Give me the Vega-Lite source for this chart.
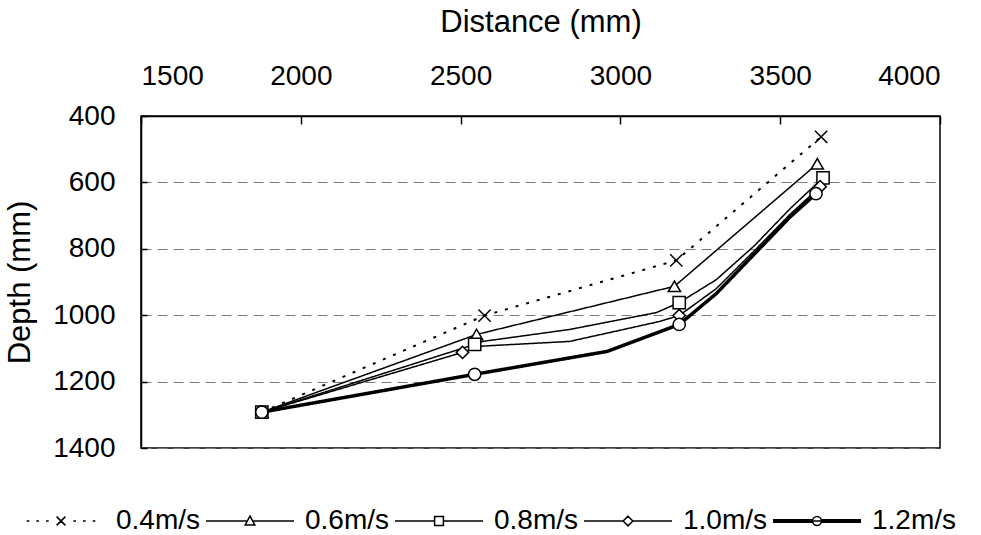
{
  "$schema": "https://vega.github.io/schema/vega-lite/v6.json",
  "width": 799,
  "height": 332,
  "autosize": {"type": "none"},
  "padding": {"left": 141, "top": 116, "right": 41, "bottom": 87},
  "background": "white",
  "config": {
    "font": "Liberation Sans",
    "view": {"stroke": "black", "strokeWidth": 1.5},
    "axis": {
      "labelFont": "Liberation Sans",
      "labelFontSize": 28,
      "labelColor": "black",
      "titleFont": "Liberation Sans",
      "titleFontSize": 31,
      "titleFontWeight": "normal",
      "titleColor": "black",
      "domainColor": "black",
      "domainWidth": 1.5,
      "tickColor": "black",
      "tickWidth": 1.5
    },
    "legend": {
      "labelFont": "Liberation Sans",
      "labelFontSize": 28,
      "labelColor": "black"
    }
  },
  "data": {
    "values": [
      {"series": "0.4m/s", "x": 1878, "y": 1292, "m": 1},
      {"series": "0.4m/s", "x": 2575, "y": 1001, "m": 1},
      {"series": "0.4m/s", "x": 3175, "y": 835, "m": 1},
      {"series": "0.4m/s", "x": 3628, "y": 463, "m": 1},
      {"series": "0.6m/s", "x": 1878, "y": 1292, "m": 1},
      {"series": "0.6m/s", "x": 2550, "y": 1058, "m": 1},
      {"series": "0.6m/s", "x": 3169, "y": 913, "m": 1},
      {"series": "0.6m/s", "x": 3616, "y": 544, "m": 1},
      {"series": "0.8m/s", "x": 1878, "y": 1292, "m": 1},
      {"series": "0.8m/s", "x": 2544, "y": 1088, "m": 1},
      {"series": "0.8m/s", "x": 2569, "y": 1079, "m": 0},
      {"series": "0.8m/s", "x": 2841, "y": 1043, "m": 0},
      {"series": "0.8m/s", "x": 3113, "y": 992, "m": 0},
      {"series": "0.8m/s", "x": 3184, "y": 962, "m": 1},
      {"series": "0.8m/s", "x": 3300, "y": 893, "m": 0},
      {"series": "0.8m/s", "x": 3420, "y": 790, "m": 0},
      {"series": "0.8m/s", "x": 3530, "y": 680, "m": 0},
      {"series": "0.8m/s", "x": 3634, "y": 586, "m": 1},
      {"series": "1.0m/s", "x": 1878, "y": 1292, "m": 1},
      {"series": "1.0m/s", "x": 2506, "y": 1112, "m": 1},
      {"series": "1.0m/s", "x": 2569, "y": 1093, "m": 0},
      {"series": "1.0m/s", "x": 2841, "y": 1079, "m": 0},
      {"series": "1.0m/s", "x": 3122, "y": 1019, "m": 0},
      {"series": "1.0m/s", "x": 3184, "y": 1001, "m": 1},
      {"series": "1.0m/s", "x": 3300, "y": 920, "m": 0},
      {"series": "1.0m/s", "x": 3420, "y": 805, "m": 0},
      {"series": "1.0m/s", "x": 3530, "y": 697, "m": 0},
      {"series": "1.0m/s", "x": 3625, "y": 613, "m": 1},
      {"series": "1.2m/s", "x": 1878, "y": 1292, "m": 1},
      {"series": "1.2m/s", "x": 2544, "y": 1178, "m": 1},
      {"series": "1.2m/s", "x": 2959, "y": 1109, "m": 0},
      {"series": "1.2m/s", "x": 3184, "y": 1028, "m": 1},
      {"series": "1.2m/s", "x": 3300, "y": 935, "m": 0},
      {"series": "1.2m/s", "x": 3420, "y": 815, "m": 0},
      {"series": "1.2m/s", "x": 3530, "y": 705, "m": 0},
      {"series": "1.2m/s", "x": 3612, "y": 634, "m": 1}
    ]
  },
  "encoding": {
    "x": {
      "field": "x",
      "type": "quantitative",
      "scale": {"domain": [1500, 4000], "nice": false, "zero": false},
      "axis": {
        "orient": "top",
        "values": [1500, 2000, 2500, 3000, 3500, 4000],
        "format": "d",
        "title": "Distance (mm)",
        "grid": false,
        "tickSize": -8,
        "labelPadding": 34,
        "titlePadding": 24
      }
    },
    "y": {
      "field": "y",
      "type": "quantitative",
      "scale": {"domain": [400, 1400], "reverse": true, "nice": false, "zero": false},
      "axis": {
        "values": [400, 600, 800, 1000, 1200, 1400],
        "format": "d",
        "title": "Depth (mm)",
        "grid": true,
        "gridDash": [10, 6],
        "gridColor": "#7a7a7a",
        "gridWidth": 1,
        "tickSize": -6,
        "labelPadding": 32,
        "titlePadding": 16
      }
    }
  },
  "layer": [
    {
      "mark": {"type": "line", "color": "black"},
      "encoding": {
        "detail": {"field": "series", "type": "nominal"},
        "strokeDash": {
          "field": "series",
          "type": "nominal",
          "scale": {
            "domain": ["0.4m/s", "0.6m/s", "0.8m/s", "1.0m/s", "1.2m/s"],
            "range": [[3, 8], [1, 0], [1, 0], [1, 0], [1, 0]]
          },
          "legend": null
        },
        "strokeWidth": {
          "condition": [
            {"test": "datum.series == '1.2m/s'", "value": 3.5},
            {"test": "datum.series == '0.4m/s'", "value": 2}
          ],
          "value": 1.5
        }
      }
    },
    {
      "transform": [{"filter": "datum.m == 1"}],
      "mark": {"type": "point", "filled": true, "fill": "white", "stroke": "black", "strokeWidth": 1.5, "size": 150, "opacity": 1},
      "encoding": {
        "shape": {
          "field": "series",
          "type": "nominal",
          "scale": {
            "domain": ["0.4m/s", "0.6m/s", "0.8m/s", "1.0m/s", "1.2m/s"],
            "range": ["M-1,-1L1,1M-1,1L1,-1", "triangle-up", "square", "diamond", "circle"]
          },
          "legend": null
        }
      }
    },
    {
      "transform": [{"filter": "datum.m == 1"}],
      "mark": {"type": "point", "filled": false, "stroke": "black", "opacity": 0},
      "encoding": {
        "shape": {
          "field": "series",
          "type": "nominal",
          "scale": {
            "domain": ["0.4m/s", "0.6m/s", "0.8m/s", "1.0m/s", "1.2m/s"],
            "range": [
              "M-0.78,0H-0.72M-0.56,0H-0.5M-0.34,0H-0.28M-0.1,-0.1L0.1,0.1M-0.1,0.1L0.1,-0.1M0.28,0H0.34M0.5,0H0.56M0.72,0H0.78",
              "M-1,0H-0.06M0.06,0H1M0,-0.11L0.11,0.09L-0.11,0.09Z",
              "M-1,0H-0.1M0.1,0H1M-0.1,-0.1H0.1V0.1H-0.1Z",
              "M-1,0H-0.11M0.11,0H1M0,-0.11L0.11,0L0,0.11L-0.11,0Z",
              "M-1,-0.028H-0.1M-1,0H1M-1,0.028H-0.1M0.1,-0.028H1M0.1,0.028H1M0.1,0A0.1,0.1 0 1,1 -0.1,0A0.1,0.1 0 1,1 0.1,0Z"
            ]
          },
          "legend": {
            "title": null,
            "orient": "none",
            "direction": "horizontal",
            "legendX": -125,
            "legendY": 360,
            "symbolSize": 7744,
            "symbolStrokeWidth": 1.5,
            "labelOffset": 10,
            "columnPadding": 2,
            "encode": {
              "symbols": {
                "update": {
                  "opacity": {"value": 1},
                  "fill": {"value": "white"},
                  "stroke": {"value": "black"},
                  "strokeWidth": {"value": 1.5}
                }
              }
            }
          }
        }
      }
    }
  ],
  "resolve": {"scale": {"shape": "independent"}}
}
